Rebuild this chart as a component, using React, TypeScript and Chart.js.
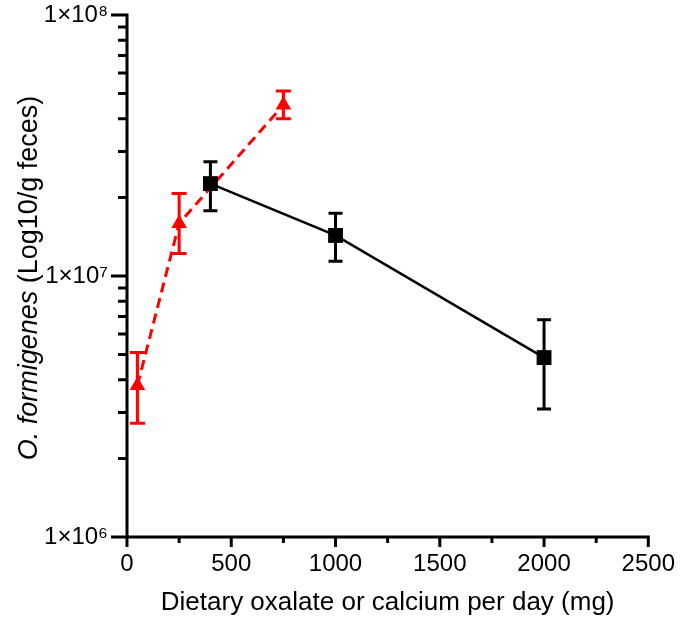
import { useEffect, useRef } from 'react';
import { Chart, registerables } from 'chart.js';

Chart.register(...registerables);

// ---- Data ----
const oxalateDoses = [50, 250, 750];
const oxalateMeans = [3.81e6, 1.59e7, 4.52e7];
const oxalateUpper = [5.09e6, 2.07e7, 5.11e7];
const oxalateLower = [2.73e6, 1.22e7, 4.0e7];

const calciumDoses = [400, 1000, 2000];
const calciumMeans = [2.26e7, 1.43e7, 4.87e6];
const calciumUpper = [2.74e7, 1.74e7, 6.8e6];
const calciumLower = [1.78e7, 1.14e7, 3.09e6];

const xTicks = [0, 500, 1000, 1500, 2000, 2500];
const xMinorTicks = [250, 750, 1250, 1750, 2250];
const yTicks = [1e6, 1e7, 1e8];
const yTickLabels = ['1×10⁶', '1×10⁷', '1×10⁸'];
const yMinorTicks = [2e6, 3e6, 4e6, 5e6, 6e6, 7e6, 8e6, 9e6, 2e7, 3e7, 4e7, 5e7, 6e7, 7e7, 8e7, 9e7];

const xTitle = 'Dietary oxalate or calcium per day (mg)';
const yTitleItalic = 'O. formigenes';
const yTitleRest = ' (Log10/g feces)';

const FONT = "'Liberation Sans', Arial, sans-serif";
const RED = '#ff0000';
const BLACK = '#000000';

const customPlugin = {
  id: 'customAxesAndErrors',
  beforeDatasetsDraw(chart: any) {
    const ctx = chart.ctx;
    const xs = chart.scales.x;
    const ys = chart.scales.y;
    const drawBars = (xv: number[], lo: number[], hi: number[], color: string, cap: number) => {
      ctx.save();
      ctx.strokeStyle = color;
      ctx.lineWidth = 3;
      ctx.lineCap = 'butt';
      xv.forEach((x, i) => {
        const px = xs.getPixelForValue(x);
        const pTop = ys.getPixelForValue(hi[i]);
        const pBot = ys.getPixelForValue(lo[i]);
        ctx.beginPath();
        ctx.moveTo(px, pTop);
        ctx.lineTo(px, pBot);
        ctx.moveTo(px - cap / 2, pTop);
        ctx.lineTo(px + cap / 2, pTop);
        ctx.moveTo(px - cap / 2, pBot);
        ctx.lineTo(px + cap / 2, pBot);
        ctx.stroke();
      });
      ctx.restore();
    };
    drawBars(oxalateDoses, oxalateLower, oxalateUpper, RED, 15);
    drawBars(calciumDoses, calciumLower, calciumUpper, BLACK, 14);
  },
  afterDraw(chart: any) {
    const ctx = chart.ctx;
    const xs = chart.scales.x;
    const ys = chart.scales.y;
    const { left, right, bottom } = chart.chartArea;
    const yTop = ys.getPixelForValue(1e8);
    ctx.save();
    ctx.strokeStyle = BLACK;
    ctx.lineWidth = 3;
    ctx.lineCap = 'butt';
    ctx.beginPath();
    // y axis line (extends down as the 0 tick)
    ctx.moveTo(left, yTop - 1.5);
    ctx.lineTo(left, bottom + 10);
    // x axis line
    ctx.moveTo(left - 16, bottom);
    ctx.lineTo(right + 1.5, bottom);
    // y ticks
    yTicks.forEach((v) => {
      const p = ys.getPixelForValue(v);
      ctx.moveTo(left - 16, p);
      ctx.lineTo(left, p);
    });
    yMinorTicks.forEach((v) => {
      const p = ys.getPixelForValue(v);
      ctx.moveTo(left - 9, p);
      ctx.lineTo(left, p);
    });
    // x ticks
    xTicks.forEach((v) => {
      const p = xs.getPixelForValue(v);
      ctx.moveTo(p, bottom);
      ctx.lineTo(p, bottom + 10);
    });
    xMinorTicks.forEach((v) => {
      const p = xs.getPixelForValue(v);
      ctx.moveTo(p, bottom);
      ctx.lineTo(p, bottom + 6);
    });
    ctx.stroke();

    // titles
    ctx.fillStyle = BLACK;
    ctx.font = `26px ${FONT}`;
    ctx.textAlign = 'center';
    ctx.textBaseline = 'alphabetic';
    ctx.fillText(xTitle, (left + right) / 2, 610);

    ctx.translate(37, 278);
    ctx.rotate(-Math.PI / 2);
    ctx.textAlign = 'left';
    ctx.textBaseline = 'alphabetic';
    ctx.font = `italic 27px ${FONT}`;
    const w1 = ctx.measureText(yTitleItalic).width;
    ctx.font = `27px ${FONT}`;
    const w2 = ctx.measureText(yTitleRest).width;
    const start = -(w1 + w2) / 2;
    ctx.font = `italic 27px ${FONT}`;
    ctx.fillText(yTitleItalic, start, 0);
    ctx.font = `27px ${FONT}`;
    ctx.fillText(yTitleRest, start + w1, 0);
    ctx.restore();
  },
};

export default function App() {
  const ref = useRef<HTMLCanvasElement | null>(null);
  useEffect(() => {
    document.body.style.margin = '0';
    const canvas = ref.current;
    if (!canvas) return;
    const chart = new Chart(canvas, {
      type: 'scatter',
      data: {
        datasets: [
          {
            label: 'Calcium',
            data: calciumDoses.map((x, i) => ({ x, y: calciumMeans[i] })),
            showLine: true,
            borderColor: BLACK,
            backgroundColor: BLACK,
            borderWidth: 2.5,
            pointStyle: 'rect',
            pointRadius: 10.5,
            pointBorderWidth: 0,
            clip: false as any,
          },
          {
            label: 'Oxalate',
            data: oxalateDoses.map((x, i) => ({ x, y: oxalateMeans[i] })),
            showLine: true,
            borderColor: RED,
            backgroundColor: RED,
            borderWidth: 3,
            borderDash: [10, 6],
            pointStyle: 'triangle',
            pointRadius: 9,
            pointBorderWidth: 0,
            clip: false as any,
          },
        ],
      },
      options: {
        animation: false,
        responsive: false,
        layout: { padding: { top: 12, right: 26, left: 0, bottom: 0 } },
        plugins: { legend: { display: false }, tooltip: { enabled: false } },
        scales: {
          x: {
            type: 'linear',
            min: 0,
            max: 2500,
            afterBuildTicks: (scale: any) => {
              scale.ticks = xTicks.map((v) => ({ value: v }));
            },
            afterFit: (scale: any) => {
              scale.height = 83;
            },
            border: { display: false },
            grid: { drawOnChartArea: false, drawTicks: true, tickLength: 10, tickColor: 'rgba(0,0,0,0)' },
            ticks: {
              color: BLACK,
              padding: 5,
              maxRotation: 0,
              font: { family: FONT, size: 24, lineHeight: 1 },
              callback: (v: any) => String(v),
            },
          },
          y: {
            type: 'logarithmic',
            min: 1e6,
            max: 1e8,
            afterBuildTicks: (scale: any) => {
              scale.ticks = yTicks.map((v) => ({ value: v }));
            },
            afterFit: (scale: any) => {
              scale.width = 127;
            },
            border: { display: false },
            grid: { drawOnChartArea: false, drawTicks: true, tickLength: 16, tickColor: 'rgba(0,0,0,0)' },
            ticks: {
              color: BLACK,
              padding: 3,
              font: { family: FONT, size: 24, lineHeight: 1 },
              callback: (v: any) => {
                const i = yTicks.indexOf(Number(v));
                return i >= 0 ? yTickLabels[i] : '';
              },
            },
          },
        },
      },
      plugins: [customPlugin],
    });
    return () => chart.destroy();
  }, []);
  return <canvas ref={ref} width={680} height={620} style={{ display: 'block', width: 680, height: 620 }} />;
}
